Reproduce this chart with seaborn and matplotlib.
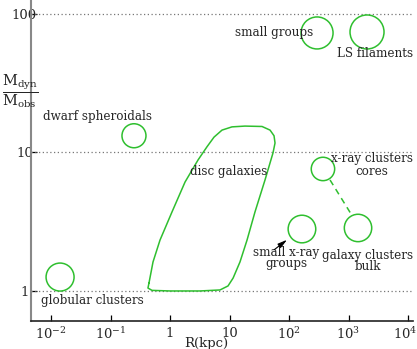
import matplotlib
matplotlib.use("Agg")
import matplotlib.pyplot as plt
import matplotlib.transforms as mtransforms
import seaborn as sns
import pandas as pd

# Object classes: characteristic radius R (kpc) and dynamical-to-observed mass ratio
classes = ["globular clusters", "dwarf spheroidals", "small groups", "LS filaments",
           "x-ray clusters cores", "small x-ray groups", "galaxy clusters bulk"]
class_R = [0.0142, 0.248, 296, 2047, 372, 165, 1445]
class_ratio = [1.26, 13.2, 72.9, 74.1, 7.60, 2.80, 2.85]

# Region occupied by disc galaxies (closed outline)
disc_R = [0.443, 0.426, 0.498, 1.0, 3.19, 6.92, 9.44, 11.5, 15.0, 19.7, 26.8, 39.5,
          53.8, 58.2, 56.0, 48.0, 35.2, 18.2, 11.0, 7.48, 5.49, 4.19, 2.96, 1.79,
          1.08, 0.679, 0.518, 0.443]
disc_ratio = [1.14, 1.05, 1.01, 1.0, 1.0, 1.017, 1.087, 1.24, 1.62, 2.33, 3.72, 6.33,
              9.92, 11.7, 13.2, 14.5, 15.4, 15.5, 15.3, 14.5, 12.9, 11.0, 8.83, 6.12,
              3.72, 2.33, 1.62, 1.14]

# Link between cluster cores and cluster bulk
link_R = [489, 1102]
link_ratio = [6.33, 3.60]

# Axis ticks
x_ticks = [1e-2, 1e-1, 1, 10, 1e2, 1e3, 1e4]
x_tick_labels = [r"$10^{-2}$", r"$10^{-1}$", "1", "10", r"$10^{2}$", r"$10^{3}$", r"$10^{4}$"]
y_ticks = [1, 10, 100]
y_tick_labels = ["1", "10", "100"]

GREEN = "#2fbf2f"
SERIF = "DejaVu Serif"

sns.set_style("ticks")
plt.rcParams["font.family"] = [SERIF]
plt.rcParams["mathtext.fontset"] = "dejavuserif"

W, H, DPI = 417, 349, 100
fig = plt.figure(figsize=(W / DPI, H / DPI), dpi=DPI)
ax = fig.add_axes([31 / W, 28 / H, 382 / W, 320 / H])
ax.set_xscale("log")
ax.set_yscale("log")
ax.set_xlim(0.00461, 12130)
ax.set_ylim(0.607, 124)

# dotted reference lines at the decades
for yv in y_ticks:
    ax.axhline(yv, color="#777777", lw=0.9, ls=(0, (1, 2)), zorder=1)

# disc galaxy region
disc = pd.DataFrame({"R": disc_R, "ratio": disc_ratio})
sns.lineplot(data=disc, x="R", y="ratio", sort=False, estimator=None,
             color=GREEN, lw=1.1, ax=ax)

# other classes shown as circles
diam_px = [28, 24, 32, 34, 23.4, 27.6, 27.4]
sizes = [(d * 72 / DPI) ** 2 for d in diam_px]
pts = pd.DataFrame({"R": class_R, "ratio": class_ratio})
sns.scatterplot(data=pts, x="R", y="ratio", s=sizes, marker="o", color=GREEN,
                facecolor="none", edgecolor=GREEN, linewidth=1.1, ax=ax, zorder=3)

sns.lineplot(x=link_R, y=link_ratio, color=GREEN, lw=1.1, ax=ax,
             linestyle=(0, (4, 3)))

# labels
fs = 8.6
ax.text(56, 72.9, "small groups", ha="center", va="center", fontsize=fs)
ax.text(2790, 51.4, "LS filaments", ha="center", va="center", fontsize=fs)
ax.text(0.0593, 18.3, "dwarf spheroidals", ha="center", va="center", fontsize=fs)
ax.text(9.82, 7.23, "disc galaxies", ha="center", va="center", fontsize=fs)
ax.text(2483, 8.12, "x-ray clusters\ncores", ha="center", va="center",
        fontsize=fs, linespacing=0.95)
ax.text(89, 1.73, "small x-ray\ngroups", ha="center", va="center",
        fontsize=fs, linespacing=0.85)
ax.text(2128, 1.65, "galaxy clusters\nbulk", ha="center", va="center",
        fontsize=fs, linespacing=0.85)
ax.text(0.0489, 0.847, "globular clusters", ha="center", va="center", fontsize=fs)

ax.annotate("", xy=(92.5, 2.34), xytext=(56.0, 1.98),
            arrowprops=dict(arrowstyle="-|>,head_length=0.55,head_width=0.15",
                            color="black", lw=0.8, shrinkA=0, shrinkB=0))

# axes styling
ax.set_xticks(x_ticks)
ax.set_xticklabels(x_tick_labels)
ax.set_yticks(y_ticks)
ax.set_yticklabels(y_tick_labels)
ax.minorticks_off()
ax.tick_params(axis="both", direction="in", length=4.3, width=0.9, color="black",
               labelsize=9.5)
ax.tick_params(axis="x", pad=4)
ax.tick_params(axis="y", pad=4.7)
for lbl in ax.get_yticklabels():
    lbl.set_ha("center")
last = ax.get_xticklabels()[-1]
last.set_transform(last.get_transform()
                   + mtransforms.ScaledTranslation(-3 / DPI, 0, fig.dpi_scale_trans))
ax.set_xlabel("")
ax.set_ylabel("")
for side in ("top", "right"):
    ax.spines[side].set_visible(False)
ax.spines["left"].set_color("#888888")
ax.spines["left"].set_linewidth(1.5)
ax.spines["bottom"].set_color("#222222")
ax.spines["bottom"].set_linewidth(1.2)

fig.text(184 / W, 1 - 343 / H, "R(kpc)", ha="left", va="center", fontsize=9.5)
fig.text(2 / W, 1 - 91 / H, r"$\dfrac{\mathrm{M}_{\mathrm{dyn}}}{\mathrm{M}_{\mathrm{obs}}}$",
         ha="left", va="center", fontsize=10.5)

fig.savefig("out.png", dpi=DPI)
